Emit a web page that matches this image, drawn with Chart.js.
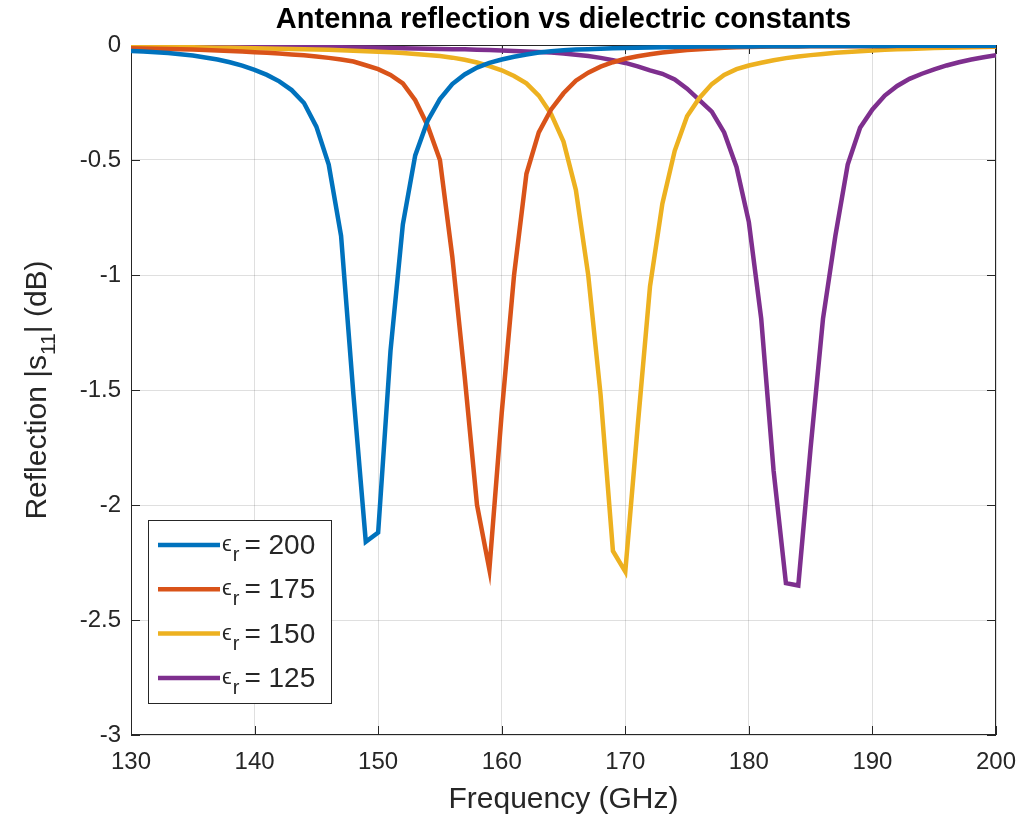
<!DOCTYPE html>
<html>
<head>
<meta charset="utf-8">
<script src="https://cdn.jsdelivr.net/npm/chart.js@4.4.1/dist/chart.umd.min.js"></script>
<style>
  html, body { margin: 0; padding: 0; background: #fff; }
  #wrap { width: 1036px; height: 819px; }
</style>
</head>
<body>
<div id="wrap"><canvas id="reflChart" width="1036" height="819"></canvas></div>
<script>
// frequency samples (GHz)
const freqs = [130, 131, 132, 133, 134, 135, 136, 137, 138, 139,
               140, 141, 142, 143, 144, 145, 146, 147, 148, 149,
               150, 151, 152, 153, 154, 155, 156, 157, 158, 159,
               160, 161, 162, 163, 164, 165, 166, 167, 168, 169,
               170, 171, 172, 173, 174, 175, 176, 177, 178, 179,
               180, 181, 182, 183, 184, 185, 186, 187, 188, 189,
               190, 191, 192, 193, 194, 195, 196, 197, 198, 199, 200];

// |s11| in dB
const s11Eps200 = [-0.026, -0.028, -0.031, -0.035, -0.040, -0.046, -0.054, -0.063, -0.075, -0.090,
                   -0.108, -0.130, -0.158, -0.196, -0.252, -0.355, -0.52, -0.83, -1.52, -2.16,
                   -2.12, -1.33, -0.78, -0.48, -0.33, -0.235, -0.170, -0.128, -0.098, -0.078,
                   -0.063, -0.051, -0.041, -0.033, -0.027, -0.023, -0.020, -0.018, -0.016, -0.014,
                   -0.013, -0.012, -0.011, -0.010, -0.009, -0.008, -0.007, -0.007, -0.006, -0.006,
                   -0.006, -0.005, -0.005, -0.005, -0.005, -0.004, -0.004, -0.004, -0.004, -0.004,
                   -0.004, -0.004, -0.003, -0.003, -0.003, -0.003, -0.003, -0.003, -0.003, -0.003, -0.003];
const s11Eps175 = [-0.014, -0.015, -0.016, -0.017, -0.019, -0.020, -0.022, -0.024, -0.026, -0.028,
                   -0.031, -0.034, -0.037, -0.041, -0.045, -0.050, -0.056, -0.063, -0.072, -0.088,
                   -0.105, -0.130, -0.167, -0.24, -0.35, -0.50, -0.92, -1.44, -2.00, -2.28,
                   -1.60, -1.00, -0.56, -0.38, -0.28, -0.21, -0.155, -0.120, -0.094, -0.075,
                   -0.060, -0.049, -0.040, -0.033, -0.027, -0.022, -0.018, -0.015, -0.012, -0.010,
                   -0.009, -0.008, -0.007, -0.006, -0.006, -0.005, -0.005, -0.005, -0.005, -0.005,
                   -0.005, -0.005, -0.004, -0.004, -0.004, -0.004, -0.004, -0.004, -0.004, -0.004, -0.004];
const s11Eps150 = [-0.008, -0.008, -0.009, -0.009, -0.010, -0.010, -0.011, -0.012, -0.012, -0.013,
                   -0.014, -0.015, -0.016, -0.017, -0.018, -0.020, -0.021, -0.023, -0.025, -0.027,
                   -0.029, -0.032, -0.035, -0.039, -0.043, -0.048, -0.055, -0.064, -0.076, -0.092,
                   -0.110, -0.135, -0.167, -0.22, -0.30, -0.42, -0.63, -1.00, -1.52, -2.20,
                   -2.29, -1.66, -1.05, -0.69, -0.46, -0.31, -0.23, -0.17, -0.13, -0.105,
                   -0.089, -0.077, -0.066, -0.057, -0.050, -0.044, -0.039, -0.034, -0.030, -0.027,
                   -0.024, -0.021, -0.019, -0.017, -0.015, -0.013, -0.012, -0.011, -0.010, -0.009, -0.008];
const s11Eps125 = [-0.003, -0.003, -0.004, -0.004, -0.004, -0.005, -0.005, -0.005, -0.006, -0.006,
                   -0.006, -0.007, -0.007, -0.008, -0.008, -0.009, -0.009, -0.010, -0.011, -0.011,
                   -0.012, -0.013, -0.014, -0.015, -0.016, -0.017, -0.018, -0.019, -0.021, -0.022,
                   -0.024, -0.026, -0.028, -0.030, -0.033, -0.037, -0.042, -0.048, -0.056, -0.066,
                   -0.078, -0.093, -0.110, -0.125, -0.15, -0.19, -0.24, -0.29, -0.38, -0.53,
                   -0.77, -1.19, -1.85, -2.34, -2.35, -1.75, -1.19, -0.83, -0.52, -0.36,
                   -0.28, -0.22, -0.178, -0.147, -0.125, -0.106, -0.089, -0.075, -0.063, -0.053, -0.044];

const epsValues = ['200', '175', '150', '125'];
const xTickValues = [130, 140, 150, 160, 170, 180, 190, 200];
const yTickValues = [0, -0.5, -1, -1.5, -2, -2.5, -3];
const yTickLabels = ['0', '-0.5', '-1', '-1.5', '-2', '-2.5', '-3'];

const chartTitle = 'Antenna reflection vs dielectric constants';
const xTitle = 'Frequency (GHz)';

const seriesColors = ['#0072BD', '#D95319', '#EDB120', '#7E2F8E'];
const axisColor = '#262626';
const fontFamily = '"Liberation Sans", Arial, Helvetica, sans-serif';

const allSeries = [s11Eps200, s11Eps175, s11Eps150, s11Eps125];

// box, inward ticks, title, y label with subscript and legend, MATLAB style
const matlabAxes = {
    id: 'matlabAxes',
    beforeDatasetsDraw(chart) {
        const { ctx, chartArea: a, scales } = chart;
        ctx.save();
        ctx.strokeStyle = axisColor;
        ctx.lineWidth = 1;
        ctx.strokeRect(a.left + 0.5, a.top + 0.5, a.right - a.left - 1, a.bottom - a.top - 1);
        const tl = 9;
        ctx.beginPath();
        xTickValues.forEach(v => {
            const px = Math.round(scales.x.getPixelForValue(v)) + 0.5;
            ctx.moveTo(px, a.bottom); ctx.lineTo(px, a.bottom - tl);
            ctx.moveTo(px, a.top); ctx.lineTo(px, a.top + tl);
        });
        yTickValues.forEach(v => {
            const py = Math.round(scales.y.getPixelForValue(v)) + 0.5;
            ctx.moveTo(a.left, py); ctx.lineTo(a.left + tl, py);
            ctx.moveTo(a.right, py); ctx.lineTo(a.right - tl, py);
        });
        ctx.stroke();
        ctx.restore();
    },
    afterDraw(chart) {
        const { ctx, chartArea: a } = chart;
        ctx.save();
        ctx.fillStyle = '#000';
        ctx.textAlign = 'center';
        ctx.textBaseline = 'middle';
        ctx.font = 'bold 29px ' + fontFamily;
        ctx.fillText(chartTitle, (a.left + a.right) / 2, 20);

        // y axis title: Reflection |s11| (dB)
        ctx.fillStyle = axisColor;
        const big = '30px ' + fontFamily, small = '21px ' + fontFamily;
        const parts = [['Reflection |s', big, 0], ['11', small, 9], ['| (dB)', big, 0]];
        let total = 0;
        parts.forEach(p => { ctx.font = p[1]; total += ctx.measureText(p[0]).width; });
        ctx.translate(38, (a.top + a.bottom) / 2);
        ctx.rotate(-Math.PI / 2);
        ctx.textAlign = 'left';
        ctx.textBaseline = 'alphabetic';
        let x = -total / 2;
        parts.forEach(p => {
            ctx.font = p[1];
            ctx.fillText(p[0], x, 8 + p[2]);
            x += ctx.measureText(p[0]).width;
        });
        ctx.setTransform(1, 0, 0, 1, 0, 0);

        // legend
        const lx = 148, ly = 520, lw = 183, lh = 183;
        ctx.fillStyle = '#fff';
        ctx.fillRect(lx, ly, lw, lh);
        ctx.strokeStyle = axisColor;
        ctx.lineWidth = 1;
        ctx.strokeRect(lx + 0.5, ly + 0.5, lw, lh);
        epsValues.forEach((ev, i) => {
            const rowY = ly + 25 + i * 44.3;
            ctx.strokeStyle = seriesColors[i];
            ctx.lineWidth = 4.5;
            ctx.beginPath();
            ctx.moveTo(158, rowY); ctx.lineTo(220, rowY);
            ctx.stroke();
            ctx.fillStyle = axisColor;
            ctx.textBaseline = 'alphabetic';
            ctx.font = '22px ' + fontFamily;
            ctx.fillText('\u03f5', 222, rowY + 6);
            let tx = 223 + ctx.measureText('\u03f5').width;
            ctx.font = '20px ' + fontFamily;
            ctx.fillText('r', tx, rowY + 16);
            tx += ctx.measureText('r').width + 5;
            ctx.font = '28px ' + fontFamily;
            ctx.fillText('= ' + ev, tx, rowY + 9);
        });
        ctx.restore();
    }
};

const datasets = allSeries.map((vals, i) => ({
    label: '\u03b5r = ' + epsValues[i],
    data: freqs.map((f, k) => ({ x: f, y: vals[k] })),
    borderColor: seriesColors[i],
    backgroundColor: seriesColors[i],
    borderWidth: 4.5,
    pointRadius: 0,
    tension: 0,
    fill: false
}));

const ctx = document.getElementById('reflChart').getContext('2d');
new Chart(ctx, {
    type: 'line',
    data: { datasets: datasets },
    options: {
        responsive: false,
        animation: false,
        devicePixelRatio: 1,
        layout: { padding: { top: 45, right: 40, left: 0, bottom: 0 } },
        plugins: {
            legend: { display: false },
            tooltip: { enabled: false },
            title: { display: false }
        },
        scales: {
            x: {
                type: 'linear',
                min: 130,
                max: 200,
                afterFit: s => { s.height = 84; },
                afterBuildTicks: s => { s.ticks = xTickValues.map(v => ({ value: v })); },
                grid: { color: 'rgba(38,38,38,0.15)', drawTicks: false },
                border: { display: false },
                ticks: {
                    color: axisColor,
                    font: { family: fontFamily, size: 24 },
                    padding: 13,
                    maxRotation: 0
                },
                title: {
                    display: true,
                    text: xTitle,
                    color: axisColor,
                    font: { family: fontFamily, size: 30 },
                    padding: { top: 0, bottom: 1 }
                }
            },
            y: {
                type: 'linear',
                min: -3,
                max: 0,
                afterFit: s => { s.width = 131; },
                afterBuildTicks: s => { s.ticks = yTickValues.map(v => ({ value: v })); },
                grid: { color: 'rgba(38,38,38,0.15)', drawTicks: false },
                border: { display: false },
                ticks: {
                    color: axisColor,
                    font: { family: fontFamily, size: 24 },
                    padding: 10,
                    callback: v => yTickLabels[yTickValues.indexOf(v)]
                }
            }
        }
    },
    plugins: [matlabAxes]
});
</script>
</body>
</html>
